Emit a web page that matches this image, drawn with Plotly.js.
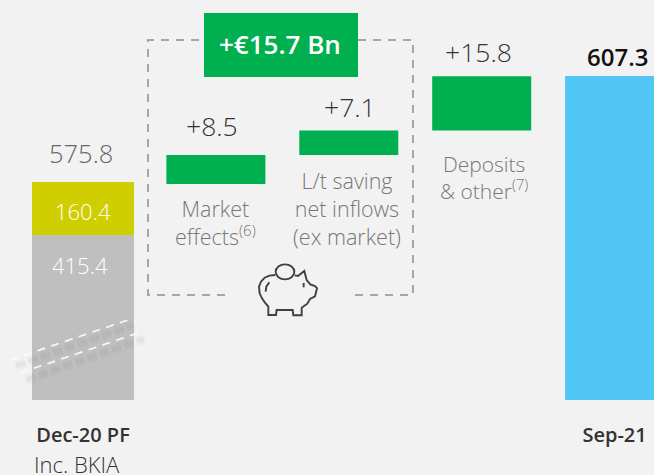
<!DOCTYPE html>
<html><head><meta charset="utf-8">
<script src="https://cdn.plot.ly/plotly-3.0.0.min.js"></script>
<style>html,body{margin:0;padding:0;background:#f2f2f2;overflow:hidden}</style>
</head><body><div id="chart" style="width:654px;height:475px"></div>
<script>
const categories=["Dec-20 PF","Market effects","L/t saving net inflows","Deposits & other","Sep-21"];
const openingOther=415.4, openingTop=160.4, openingTotal=575.8;
const steps=[8.5,7.1,15.8];
const stepTotal="+€15.7 Bn";
const closing=607.3;

const W=654,H=400;
const PX=x=>x/W, PY=y=>1-y/H;
const pLine=(pts)=>pts.map((p,i)=>(i?'L':'M')+PX(p[0]).toFixed(4)+','+PY(p[1]).toFixed(4)).join(' ');
const pig=(pts)=>pLine(pts.map(p=>[250+p[0]/3,255+p[1]/3]));
const bases=[];let run=openingTotal;steps.forEach(s=>{bases.push(run);run+=s;});
const axisBottom=closing-324/3.43, axisTop=axisBottom+400/3.43;
const grayScale=165/openingOther, yellowScale=53/openingTop;

const traces=[
 {type:'bar',x:[categories[0]],y:[openingOther],width:[0.767],marker:{color:'#bfbfbf'},yaxis:'y2',hoverinfo:'skip'},
 {type:'bar',x:[categories[0]],y:[openingTop],base:[0],width:[0.767],marker:{color:'#cfce00'},yaxis:'y3',hoverinfo:'skip'},
 {type:'bar',x:categories.slice(1,4),y:steps,base:bases,width:0.745,marker:{color:'#00b050'},hoverinfo:'skip'},
 {type:'bar',x:[categories[4]],y:[closing],width:[0.745],marker:{color:'#52c7f5'},hoverinfo:'skip'}
];
const dashGray={color:'#a6a6a6',width:2,dash:'8px,7px'};
const ref={xref:'paper',yref:'paper'};
const shadow=(a,b)=>[10,7,4].map(w=>Object.assign({type:'line',x0:PX(a[0]),y0:PY(a[1]),x1:PX(b[0]),y1:PY(b[1]),line:{color:'rgba(110,110,110,0.035)',width:w,dash:'10px,3px'}},ref));
const whiteDash=(a,b)=>Object.assign({type:'line',x0:PX(a[0]),y0:PY(a[1]),x1:PX(b[0]),y1:PY(b[1]),line:{color:'#fbfbfb',width:1.6,dash:'8px,6.5px'}},ref);
const ink={color:'#404040',width:1.9};
const shapes=[
 Object.assign({type:'path',path:pLine([[225,295],[148,295],[148,40],[204,40]]),line:dashGray,layer:'below'},ref),
 Object.assign({type:'path',path:pLine([[358,40],[413,40],[413,295],[350,295]]),line:dashGray,layer:'below'},ref),
 Object.assign({type:'rect',x0:PX(204),x1:PX(358),y0:PY(13),y1:PY(77),fillcolor:'#00b050',line:{width:0}},ref),
 ...shadow([16,366],[134,325]),
 ...shadow([26,380],[144,339]),
 whiteDash([10,360],[131,319]),
 whiteDash([20,373],[141,332]),
 Object.assign({type:'path',line:ink,path:pig([[76,60],[58,62],[44,68],[33,80],[27,95],[29,115],[36,130],[45,143],[55,155],[55,180],[78,180],[80,165],[128,165],[130,181],[155,181],[155,158],[172,146],[180,132],[195,124],[201,100],[195,93],[181,88],[170,75],[163,48],[144,63],[134,61]])},ref),
 Object.assign({type:'circle',x0:PX(250+77/3),x1:PX(250+133/3),y0:PY(255+28/3),y1:PY(255+73/3),line:ink},ref),
 Object.assign({type:'path',line:ink,path:pig([[47,110],[49,95],[58,82]])},ref),
 Object.assign({type:'path',line:ink,path:pig([[161,84],[161,97]])},ref)
];
const body='Open Sans, Noto Sans, sans-serif';
const note=(x,y,text,size,color,weight)=>({xref:'paper',yref:'paper',x:PX(x),y:PY(y),text,showarrow:false,xanchor:'center',yanchor:'middle',font:{family:body,size,color,weight:weight||300}});
const annotations=[
 note(81,153,String(openingTotal),25.5,'#666666'),
 note(83,211,String(openingTop),22,'#ffffff'),
 note(80,265,String(openingOther),22,'#ffffff'),
 note(280,44,stepTotal,26,'#ffffff',600),
 note(212,126,'+'+steps[0],26.5,'#333333'),
 note(350,107,'+'+steps[1],26.5,'#333333'),
 note(478,52,'+'+steps[2],26.5,'#333333'),
 note(617,56,String(closing),24,'#111111',600),
 note(215,222,'Market<br>effects<sup>(6)</sup>',21.5,'#777777'),
 note(347,208,'L/t saving<br>net inflows<br>(ex market)',21.5,'#777777'),
 note(484,177,'Deposits<br>&amp; other<sup>(7)</sup>',21,'#777777'),
 note(77,464,'Inc. BKIA',22,'#333333')
];
const layout={
 width:654,height:475,margin:{l:0,r:0,t:0,b:75,pad:0},
 paper_bgcolor:'#f2f2f2',plot_bgcolor:'#f2f2f2',showlegend:false,barmode:'overlay',
 xaxis:{type:'category',categoryorder:'array',categoryarray:categories,range:[-0.6245,4.2965],
   tickmode:'array',tickvals:[categories[0],categories[4]],ticktext:['Dec-20 PF','Sep-21'],
   tickfont:{family:body,size:20,color:'#333333',weight:600},ticks:'outside',ticklen:17,tickcolor:'rgba(0,0,0,0)',showgrid:false,zeroline:false,showline:false},
 yaxis:{range:[axisBottom,axisTop],visible:false,fixedrange:true},
 yaxis2:{overlaying:'y',range:[0,400/grayScale],visible:false},
 yaxis3:{overlaying:'y',range:[-(400-53-182)/yellowScale,(400-(400-53-182))/yellowScale],visible:false},
 shapes,annotations
};
Plotly.newPlot('chart',traces,layout,{displayModeBar:false,staticPlot:true});
</script></body></html>
